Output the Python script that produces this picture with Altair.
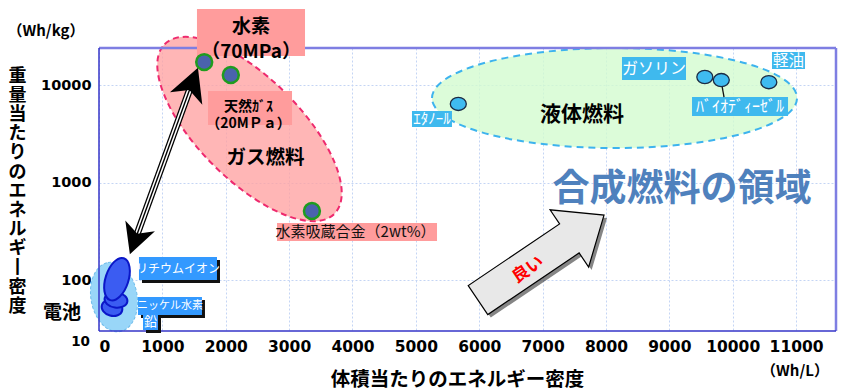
import altair as alt
import pandas as pd

JP = "Noto Sans CJK JP"
NUM = "DejaVu Sans"

# ---------------- values ----------------
# fuels: volumetric (Wh/L) vs gravimetric (Wh/kg) energy density
fuel_names = ["水素（70MPa）", "天然ガス（20MPa）", "水素吸蔵合金（2wt%）",
              "エタノール", "ガソリン", "バイオディーゼル", "軽油"]
fuel_wh_l = [1660, 2080, 3360, 5670, 9560, 9820, 10570]
fuel_wh_kg = [17200, 12700, 510, 6400, 12100, 11250, 10700]
fuel_kind = ["gas", "gas", "gas", "liquid", "liquid", "liquid", "liquid"]

battery_names = ["鉛", "ニッケル水素", "リチウムイオン"]
battery_wh_l = [205, 268, 284]
battery_wh_kg = [51.7, 62.4, 102]

# grouping regions (centres)
region_names = ["液体燃料", "ガス燃料", "電池"]
region_wh_l = [8135, 2375, 237]
region_wh_kg = [7360, 3540, 66.9]

# label boxes
box_names = ["水素", "天然ガス", "水素吸蔵合金", "リチウムイオン", "ニッケル水素", "鉛",
             "エタノール", "ガソリン", "バイオディーゼル", "軽油"]
box_x1 = [1546, 1720, 2809, 631, 615, 694, 4939, 8253, 9358, 10620]
box_x2 = [3251, 3046, 5334, 1862, 1625, 931, 5570, 9263, 10873, 11141]
box_y1 = [60300, 8680, 384, 172, 66.9, 45.9, 5420, 19380, 7540, 21800]
box_y2 = [19860, 3890, 251, 100, 43.8, 30.7, 3710, 11250, 4810, 14600]
box_kind = ["pink", "pink", "pink", "battery", "battery", "battery",
            "liquid", "liquid", "liquid", "liquid"]

# label texts (first-line anchor for two-line labels)
label_text = ["水素\n（70MPa）", "天然ｶﾞｽ\n（20MＰａ）", "水素吸蔵合金（2wt%）",
              "リチウムイオン", "ニッケル水素", "鉛", "ｴﾀﾉｰﾙ", "ガソリン",
              "ﾊﾞｲｵﾃﾞｨｰｾﾞﾙ", "軽油", "ガス燃料", "液体燃料", "合成燃料の領域", "良い"]
label_x = [2399, 2359, 4048, 1247, 1120, 813, 5255, 8758, 10115, 10880,
           2627, 7622, 9200, 6770]
label_y = [39830, 5960, 311, 131, 54.2, 37.5, 4480, 14770, 6020, 17850,
           1785, 4925, 838, 127]

# connector (biodiesel point -> label) and arrows
leader_x = [9815, 9863]
leader_y = [11250, 7540]
pair_arrow_x = [568, 1468]        # double-headed arrow: battery <-> hydrogen
pair_arrow_y = [257, 10490]
better_arrow_x = [6975]           # "良い" arrow centre
better_arrow_y = [170]

x_ticks = [0, 1000, 2000, 3000, 4000, 5000, 6000, 7000, 8000, 9000, 10000, 11000]
y_ticks = [100, 1000, 10000]

# ---------------- helpers ----------------
def ellipse_path(r):
    k = 0.5523
    return (f"M -1 0 C -1 {-k*r:.4f} {-k} {-r} 0 {-r} "
            f"C {k} {-r} 1 {-k*r:.4f} 1 0 "
            f"C 1 {k*r:.4f} {k} {r} 0 {r} "
            f"C {-k} {r} -1 {k*r:.4f} -1 0 Z")

HEAD = "M 0 -1 L 1.05 1 L 0 0.45 L -1.05 1 Z"
BIG_ARROW = ("M 0 -1 L 0.454 -0.45 L 0.23 -0.45 L 0.23 1 L -0.23 1 "
             "L -0.23 -0.45 L -0.454 -0.45 Z")

x_scale = alt.Scale(domain=[0, 11630], nice=False, zero=False)
y_scale = alt.Scale(type="log", domain=[30, 24000], nice=False)

grid_color = "#C4D5F4"
x_axis = alt.Axis(values=x_ticks, format="d", labelFont=NUM, labelFontWeight="bold",
                  labelFontSize=15.5, labelColor="#000", labelPadding=8, ticks=False,
                  domain=False, gridColor=grid_color, gridDash=[2, 2], gridWidth=1,
                  title="体積当たりのエネルギー密度", titleFont=JP, titleFontSize=19.5,
                  titleFontWeight="bold", titleColor="#000", titleX=358, titleY=48,
                  titleAlign="center", titleBaseline="middle", titleAngle=0)
y_axis = alt.Axis(values=y_ticks, format="d", labelFont=NUM, labelFontWeight="bold",
                  labelFontSize=14.5, labelColor="#000", labelPadding=8, ticks=False,
                  domain=False, gridColor=grid_color, gridDash=[2, 2], gridWidth=1,
                  labelFlush=False,
                  title=list("重量当たりのエネルギ") + ["丨"] + list("密度"),
                  titleFont=JP, titleFontSize=18, titleFontWeight="bold",
                  titleColor="#000", titleAngle=0, titleX=-82, titleY=28,
                  titleAlign="center", titleBaseline="middle", titleLineHeight=19.2)

X = alt.X("x:Q", scale=x_scale, axis=x_axis)
Y = alt.Y("y:Q", scale=y_scale, axis=y_axis)


def df_xy(xs, ys, **cols):
    d = {"x": xs, "y": ys}
    d.update(cols)
    return pd.DataFrame(d)


def symbol(df, shape, size, angle=0, **kw):
    return alt.Chart(df).mark_point(shape=shape, size=size, angle=angle, filled=True,
                                    opacity=1, **kw).encode(x=X, y=Y)


layers = []

# region ellipses
reg = df_xy(region_wh_l, region_wh_kg, name=region_names)
layers.append(symbol(reg[reg.name == "液体燃料"], ellipse_path(0.274), 133225, 0,
                     fill="#D3FBD0", fillOpacity=0.8, stroke="#3DB3EE",
                     strokeWidth=2, strokeDash=[7, 5]))
layers.append(symbol(reg[reg.name == "ガス燃料"], ellipse_path(0.425), 57600, 45,
                     fill="#FFA2A2", fillOpacity=0.78, stroke="#EE2A6E",
                     strokeWidth=2, strokeDash=[6, 4]))
layers.append(symbol(reg[reg.name == "電池"], ellipse_path(0.66), 4900, 80,
                     fill="#8ED2F7", fillOpacity=0.9, stroke="#70BDEB",
                     strokeWidth=1, strokeDash=[3, 2]))

# plot frame
frame = pd.DataFrame({"k": [0]})
layers.append(alt.Chart(frame).mark_rule(color="#7E7EE2", strokeWidth=2.5).encode(
    x=alt.value(0), x2=alt.value(737), y=alt.value(0)))
layers.append(alt.Chart(frame).mark_rule(color="#7E7EE2", strokeWidth=2.5).encode(
    x=alt.value(737), y=alt.value(0), y2=alt.value(283)))
layers.append(alt.Chart(frame).mark_rule(color="#3434C8", strokeWidth=1.5).encode(
    x=alt.value(0), y=alt.value(0), y2=alt.value(283)))
layers.append(alt.Chart(frame).mark_rule(color="#3434C8", strokeWidth=1.5).encode(
    x=alt.value(0), x2=alt.value(737), y=alt.value(283)))

# batteries
bat = df_xy(battery_wh_l, battery_wh_kg, name=battery_names)
bat_style = {"鉛": (ellipse_path(0.75), 441, 15),
             "ニッケル水素": (ellipse_path(0.66), 529, 8),
             "リチウムイオン": (ellipse_path(0.52), 1936, 108)}
for nm in battery_names:
    shp, sz, ang = bat_style[nm]
    layers.append(symbol(bat[bat.name == nm], shp, sz, ang, fill="#3B5CF2",
                         stroke="#0B17C8", strokeWidth=2))

# "better" arrow
ba = df_xy(better_arrow_x, better_arrow_y)
layers.append(symbol(ba, BIG_ARROW, 23104, 56, fill="#333333", fillOpacity=0.6,
                     xOffset=3, yOffset=3))
layers.append(symbol(ba, BIG_ARROW, 23104, 56, fill="#E8E8E8", stroke="#000",
                     strokeWidth=1.2))

# double headed arrow
shaft = pd.DataFrame({"x": [pair_arrow_x[0]], "y": [pair_arrow_y[0]],
                      "x2": [pair_arrow_x[1]], "y2": [pair_arrow_y[1]]})
for col, w in [("#000", 7), ("#fff", 4.5), ("#000", 1.4)]:
    layers.append(alt.Chart(shaft).mark_rule(color=col, strokeWidth=w).encode(
        x=X, y=Y, x2="x2:Q", y2="y2:Q"))
heads = df_xy(pair_arrow_x, pair_arrow_y)
layers.append(symbol(heads.iloc[[1]], HEAD, 1089, 21, fill="#000"))
layers.append(symbol(heads.iloc[[0]], HEAD, 900, 200, fill="#000"))

# label boxes
box = pd.DataFrame({"x": box_x1, "x2": box_x2, "y": box_y1, "y2": box_y2,
                    "name": box_names, "kind": box_kind})
box_fill = {"pink": "#FF9C9C", "battery": "#3399FF", "liquid": "#3FB9EE"}
bshadow = box[box.kind == "battery"]
layers.append(alt.Chart(bshadow).mark_rect(color="#111", xOffset=3, x2Offset=3,
                                           yOffset=3, y2Offset=3).encode(
    x=X, y=Y, x2="x2:Q", y2="y2:Q"))
for kind, col in box_fill.items():
    layers.append(alt.Chart(box[box.kind == kind]).mark_rect(color=col).encode(
        x=X, y=Y, x2="x2:Q", y2="y2:Q"))

# leader line
lead = pd.DataFrame({"x": [leader_x[0]], "y": [leader_y[0]],
                     "x2": [leader_x[1]], "y2": [leader_y[1]]})
layers.append(alt.Chart(lead).mark_rule(color="#111", strokeWidth=1.3).encode(
    x=X, y=Y, x2="x2:Q", y2="y2:Q"))

# fuel points
fuel = df_xy(fuel_wh_l, fuel_wh_kg, name=fuel_names, kind=fuel_kind)
layers.append(symbol(fuel[fuel.kind == "gas"], "circle", 254, 0, fill="#4A63AC",
                     stroke="#1F9C1F", strokeWidth=2.5))
layers.append(symbol(fuel[fuel.kind == "liquid"], ellipse_path(0.82), 256, 0,
                     fill="#3FBBF0", stroke="#1B2B44", strokeWidth=1.3))

# texts
lab = df_xy(label_x, label_y, label=label_text)
text_style = {
    "水素\n（70MPa）": dict(fontSize=19, fontWeight="bold", color="#000", lineHeight=25),
    "天然ｶﾞｽ\n（20MＰａ）": dict(fontSize=14, fontWeight="bold", color="#000", lineHeight=17),
    "水素吸蔵合金（2wt%）": dict(fontSize=15, color="#111"),
    "リチウムイオン": dict(fontSize=12, color="#fff"),
    "ニッケル水素": dict(fontSize=11, color="#fff"),
    "鉛": dict(fontSize=13, color="#fff"),
    "ｴﾀﾉｰﾙ": dict(fontSize=15, color="#fff"),
    "ガソリン": dict(fontSize=16, color="#fff"),
    "ﾊﾞｲｵﾃﾞｨｰｾﾞﾙ": dict(fontSize=16, color="#fff"),
    "軽油": dict(fontSize=15.5, color="#fff"),
    "ガス燃料": dict(fontSize=19.5, fontWeight="bold", color="#000"),
    "液体燃料": dict(fontSize=21, fontWeight="bold", color="#000"),
    "合成燃料の領域": dict(fontSize=37, fontWeight="bold", color="#4F81BD"),
    "良い": dict(fontSize=17, fontWeight="bold", color="#FF0000", angle=326),
}
for t in label_text:
    st = dict(font=JP, align="center", baseline="middle", lineBreak="\n")
    st.update(text_style[t])
    layers.append(alt.Chart(lab[lab.label == t]).mark_text(**st).encode(
        x=X, y=Y, text="label:N"))

# texts outside the plot area (units, extra tick label, battery caption)
outer = [("（Wh/kg）", -53, -17, 15, "center", JP),
         ("10", -9, 294, 13.5, "right", NUM),
         ("電池", -37, 265, 19, "center", JP),
         ("（Wh/L）", 696, 323, 15, "center", JP)]
for txt, px, py, fs, al, fnt in outer:
    layers.append(alt.Chart(pd.DataFrame({"t": [txt]})).mark_text(
        font=fnt, fontSize=fs, fontWeight="bold", color="#000", align=al,
        baseline="middle").encode(x=alt.value(px), y=alt.value(py), text="t:N"))

chart = alt.layer(*layers).properties(
    width=737, height=283,
    autosize=alt.AutoSizeParams(type="none"),
    padding={"left": 99, "top": 48, "right": 8, "bottom": 59},
    background="white",
).configure_view(stroke=None)

chart.save("out.html", embed_options={"renderer": "svg", "actions": False})
